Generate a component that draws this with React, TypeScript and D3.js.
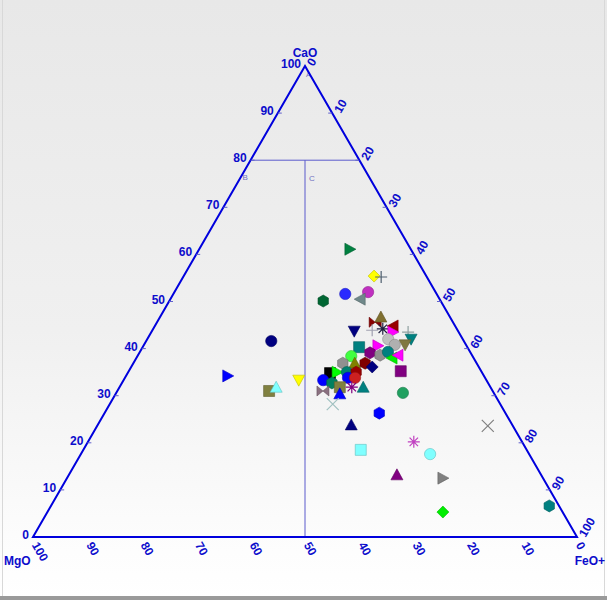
import React from "react";
import * as d3 from "d3";

// Ternary data: CaO (apex), FeO+ (right), MgO (left) in %
const CAO = [61.1,55.4,55.2,51.6,52.0,50.5,50.1,43.7,45.6,46.7,43.9,44.2,44.8,43.5,43.5,42.0,42.0,40.8,40.8,40.3,40.6,39.1,38.6,39.3,38.0,38.6,38.4,36.9,36.9,36.9,36.1,35.2,34.8,35.0,35.0,35.0,33.3,32.7,33.8,33.8,31.0,31.8,30.4,31.8,31.8,30.6,28.2,26.3,23.8,18.5,20.2,17.6,23.6,13.2,12.5,5.3,6.6,41.6,34.2,33.3,31.0,31.8];
const FEO = [27.7,35.0,36.4,31.6,35.6,34.9,28.3,37.2,40.1,40.6,40.4,42.2,43.8,44.4,47.2,48.5,44.3,46.1,48.0,39.8,43.1,42.4,44.5,45.6,47.0,47.8,39.3,38.5,40.7,42.6,44.3,50.0,37.2,38.4,40.2,41.9,36.7,38.6,41.0,42.3,37.8,40.5,41.2,42.7,44.8,52.7,41.0,50.5,46.6,51.0,59.9,64.2,71.8,60.3,69.1,72.7,91.6,23.0,18.7,32.2,27.9,28.8];
const MGO = CAO.map((c, i) => +(100 - c - FEO[i]).toFixed(1));

const SYMBOLS = ["triRight","diamond","plus","circle","circle","triLeft","hexagon","triDown","bowtie","triUp","plus","asterisk","triLeft","triRight","plus","triDown","circle","circle","triDown","square","triRight","hexagon","hexagon","circle","triLeft","triLeft","circle","hexagon","triUp","hexagon","diamond","square","square","triRight","circle","hexagon","circle","hexagon","circle","circle","bowtie","square","triUp","asterisk","triUp","circle","x","hexagon","triUp","square","asterisk","circle","x","triUp","triRight","diamond","hexagon","circle","triRight","triDown","square","triUp"];
const COLORS = ["#008040","#ffff00","#506070","#2a2aff","#c030c0","#70888a","#006633","#000080","#880000","#807030","#a0a0b0","#202040","#990000","#ff00ff","#90a0a0","#008080","#c0c0c0","#b0b0b0","#807840","#008080","#ff00ff","#800080","#909090","#008080","#00ee00","#ff00ff","#40ff40","#909090","#808000","#800000","#000080","#800080","#000000","#00ff00","#008070","#990000","#0000ff","#008060","#0000ff","#cc2020","#8a7080","#808040","#0000ff","#800080","#008080","#20a060","#a0c0c0","#0000ff","#000080","#80ffff","#c040c0","#80ffff","#808080","#800080","#808080","#00ee00","#008080","#000080","#0000ff","#ffff00","#808040","#80ffff"];

const TICKS = [0,10,20,30,40,50,60,70,80,90,100];
const AXIS_TITLES = ["CaO", "MgO", "FeO+"];
const REGION_LABELS = ["A", "B", "C"];

const W = 607, H = 600;
const xs = d3.scaleLinear().domain([0, 100]).range([33, 577]);
const ys = d3.scaleLinear().domain([0, 100]).range([537, 66]);
const px = (c: number, f: number) => xs(f + c / 2);
const py = (c: number) => ys(c);

function shapePath(t: string): string {
  const s = 6;
  switch (t) {
    case "circle": return d3.symbol(d3.symbolCircle, 100)() as string;
    case "square": return "M-5.5,-5.5H5.5V5.5H-5.5Z";
    case "diamond": return `M0,${-s}L${s},0L0,${s}L${-s},0Z`;
    case "triUp": return `M0,${-s}L${s},${s - 1}L${-s},${s - 1}Z`;
    case "triDown": return `M0,${s}L${s},${-s + 1}L${-s},${-s + 1}Z`;
    case "triLeft": return `M${-s},0L${s - 1},${-s}L${s - 1},${s}Z`;
    case "triRight": return `M${s},0L${-s + 1},${-s}L${-s + 1},${s}Z`;
    case "hexagon": {
      const pts = d3.range(6).map(k => {
        const a = Math.PI / 6 + k * Math.PI / 3;
        return [s * Math.cos(a), s * Math.sin(a)];
      });
      return "M" + pts.map(p => p.join(",")).join("L") + "Z";
    }
    case "bowtie": return `M${-s},${-s + 1}L${s},${s - 1}L${s},${-s + 1}L${-s},${s - 1}Z`;
    case "plus": return `M${-s},0H${s}M0,${-s}V${s}`;
    case "x": return `M${-s},${-s}L${s},${s}M${-s},${s}L${s},${-s}`;
    case "asterisk": return `M${-s},0H${s}M0,${-s}V${s}M-4.2,-4.2L4.2,4.2M-4.2,4.2L4.2,-4.2`;
  }
  return "";
}

const LINE_ONLY = new Set(["plus", "x", "asterisk"]);

export default function App() {
  const blue = "#0000dd";
  const txt = "#0c0ccc";
  const font = "'Liberation Sans', Arial, sans-serif";
  const A = [px(100, 0), py(100)];
  const L = [px(0, 0), py(0)];
  const R = [px(0, 100), py(0)];
  return (
    <svg width={W} height={H} style={{ position: "absolute", left: 0, top: 0 }} fontFamily={font}>
      <defs>
        <linearGradient id="bg" x1="0" y1="0" x2="0" y2="1">
          <stop offset="0" stopColor="#e8e8e8" />
          <stop offset="0.55" stopColor="#f0f0f0" />
          <stop offset="0.92" stopColor="#fdfdfd" />
          <stop offset="1" stopColor="#ffffff" />
        </linearGradient>
      </defs>
      <rect x={0} y={0} width={W} height={H} fill="url(#bg)" />
      <line x1={2.5} y1={0} x2={2.5} y2={597} stroke="#d8d8d8" />
      <line x1={604.5} y1={0} x2={604.5} y2={597} stroke="#d8d8d8" />
      <rect x={0} y={596} width={W} height={4} fill="#9a9a9a" />

      {/* inner region lines */}
      <line x1={px(80, 0)} y1={py(80)} x2={px(80, 20)} y2={py(80)} stroke="#5a5acc" strokeWidth={1} />
      <line x1={xs(50)} y1={py(80)} x2={xs(50)} y2={py(0)} stroke="#5a5acc" strokeWidth={1} />
      <text x={A[0] + 1} y={A[1] + 11} fontSize={7} fill="#7070c0">{REGION_LABELS[0]}</text>
      <text x={px(80, 0) - 8} y={py(80) + 20} fontSize={8} fill="#7070c0">{REGION_LABELS[1]}</text>
      <text x={xs(50) + 4} y={py(80) + 21} fontSize={8} fill="#7070c0">{REGION_LABELS[2]}</text>

      {/* triangle */}
      <path d={`M${L[0]},${L[1]}L${A[0]},${A[1]}L${R[0]},${R[1]}Z`} fill="none" stroke={blue} strokeWidth={2} strokeLinejoin="miter" />

      {/* ticks */}
      {TICKS.slice(1, -1).map(t => (
        <line key={"lt" + t} x1={px(t, 0)} y1={py(t)} x2={px(t, 0) + 4} y2={py(t)} stroke="#6060cc" />
      ))}
      {TICKS.slice(1, -1).map(t => (
        <line key={"rt" + t} x1={px(100 - t, t)} y1={py(100 - t)} x2={px(100 - t, t) - 4} y2={py(100 - t)} stroke="#6060cc" />
      ))}

      {/* left labels: CaO */}
      {TICKS.map(t => (
        <text key={"ll" + t} x={px(t, 0) - 4} y={py(t) + 2} textAnchor="end" fontSize={12} fontWeight="bold" fill={txt}>{t}</text>
      ))}
      {/* right labels: FeO */}
      {TICKS.map(t => (
        <text key={"rl" + t} transform={`translate(${px(100 - t, t) + 5},${py(100 - t) - 1}) rotate(-60)`} textAnchor="start" dominantBaseline="central" fontSize={12} fontWeight="bold" fill={txt}>{t}</text>
      ))}
      {/* bottom labels: MgO */}
      {TICKS.map(t => (
        <text key={"bl" + t} transform={`translate(${xs(100 - t) + 2},${py(0) + 6}) rotate(60)`} textAnchor="start" dominantBaseline="central" fontSize={12} fontWeight="bold" fill={txt}>{t}</text>
      ))}

      {/* axis titles */}
      <text x={A[0]} y={57} textAnchor="middle" fontSize={12} fontWeight="bold" fill={txt}>{AXIS_TITLES[0]}</text>
      <text x={4} y={565} fontSize={12} fontWeight="bold" fill={txt}>{AXIS_TITLES[1]}</text>
      <text x={605} y={565} textAnchor="end" fontSize={12} fontWeight="bold" fill={txt}>{AXIS_TITLES[2]}</text>

      {/* points */}
      {CAO.map((c, i) => {
        const sym = SYMBOLS[i];
        const col = COLORS[i];
        const lineOnly = LINE_ONLY.has(sym);
        const dark = d3.color(col)!.darker(0.8).formatHex();
        return (
          <path key={"p" + i}
            d={shapePath(sym)}
            transform={`translate(${px(c, FEO[i])},${py(c)})`}
            fill={lineOnly ? "none" : col}
            stroke={lineOnly ? col : dark}
            strokeWidth={lineOnly ? 1.2 : 0.6}
            data-mgo={MGO[i]}
          />
        );
      })}
    </svg>
  );
}
